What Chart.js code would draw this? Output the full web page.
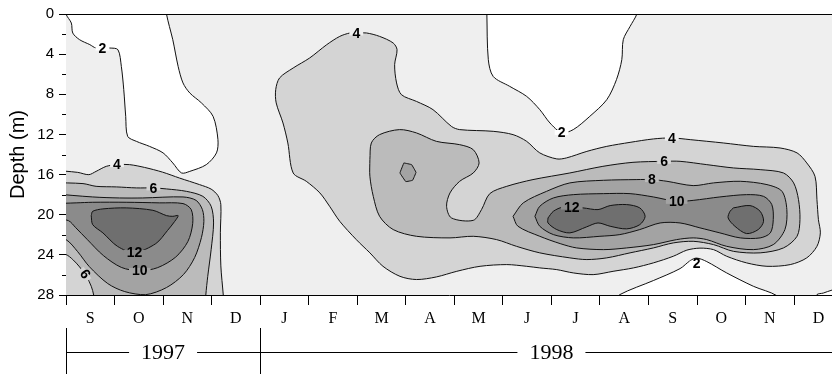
<!DOCTYPE html>
<html>
<head>
<meta charset="utf-8">
<script src="https://cdn.jsdelivr.net/npm/chart.js@4.4.0/dist/chart.umd.min.js"></script>
<style>
  html, body { margin: 0; padding: 0; background: #fff; }
  #wrap { width: 832px; height: 374px; }
</style>
</head>
<body>
<div id="wrap"><canvas id="chartDepth"></canvas></div>
<script>
// x = months since 1 Sep 1997, y = depth (m)
const months = ['S', 'O', 'N', 'D', 'J', 'F', 'M', 'A', 'M', 'J', 'J', 'A', 'S', 'O', 'N', 'D'];
const yearLabels = ['1997', '1998'];
const yearStarts = [0, 4];
const yearEnds = [4, 16];
const depthTicks = [0, 2, 4, 6, 8, 10, 12, 14, 16, 18, 20, 22, 24, 26, 28];
const levels = [2, 4, 6, 8, 10, 12];
const bandColors = ['#ffffff', '#efefef', '#d4d4d4', '#bbbbbb', '#a3a3a3', '#8b8b8b', '#6f6f6f'];

// contour outlines [month, depth]; points past the axes close the shapes off-chart
const lt2_1997 = [[0.00,-0.8],[0.00,0.0],[0.11,0.9],[0.14,1.9],[0.28,2.56],[0.49,3.05],[0.62,3.39],[0.90,3.39],[1.07,3.56],[1.14,5.22],[1.19,7.54],[1.23,10.2],[1.27,12.19],[1.45,12.69],[1.72,13.19],[2.00,13.84],[2.20,14.84],[2.38,15.84],[2.55,15.68],[2.89,15.01],[3.10,13.84],[3.13,12.52],[3.03,10.2],[2.79,8.86],[2.55,7.87],[2.41,6.87],[2.31,5.22],[2.20,2.56],[2.13,1.24],[2.07,0.0],[2.06,-0.8]];
const lt2_1998a = [[8.67,-0.8],[8.67,0.0],[8.70,4.55],[8.80,6.22],[9.14,7.21],[9.49,8.21],[9.76,9.53],[9.97,10.86],[10.21,11.82],[10.45,11.52],[10.79,10.2],[11.14,8.54],[11.34,6.54],[11.45,4.55],[11.48,2.56],[11.62,1.24],[11.76,0.0],[11.77,-0.8]];
const lt2_1998b = [[11.25,28.8],[11.41,27.96],[12.10,26.56],[12.65,25.37],[12.86,24.57],[12.99,24.32],[13.20,24.67],[13.61,25.80],[14.16,27.13],[14.64,28.06],[14.70,28.8]];
const lt2_1998c = [[15.40,28.8],[15.47,27.96],[15.60,27.81],[15.78,27.51],[16.2,27.1],[16.2,28.8]];

const gt4_1997 = [[-0.3,15.55],[0.24,15.78],[0.47,16.01],[0.62,15.68],[0.83,15.18],[1.05,15.01],[1.31,15.01],[1.62,15.29],[1.99,15.76],[2.34,16.35],[2.75,17.0],[2.99,17.45],[3.13,18.1],[3.19,19.0],[3.18,21.8],[3.19,25.1],[3.24,28.0],[3.25,28.8],[-0.3,28.8]];
const gt6_1997 = [[-0.3,16.8],[0.35,16.9],[0.62,17.17],[1.04,17.23],[1.45,17.33],[1.80,17.33],[2.07,17.43],[2.48,17.67],[2.82,18.17],[2.99,19.16],[3.04,20.82],[2.99,23.48],[2.92,26.14],[2.88,28.0],[2.87,28.8],[0.58,28.8],[0.57,28.0],[0.52,27.13],[0.42,26.14],[0.28,25.2],[0.14,24.47],[0.0,23.97],[-0.3,23.7]];
const gt8_1997 = [[-0.3,17.9],[0.55,18.23],[1.10,18.33],[1.58,18.33],[2.41,18.23],[2.68,18.57],[2.81,19.49],[2.84,20.69],[2.79,22.28],[2.65,24.27],[2.42,25.96],[2.07,27.26],[1.64,27.97],[1.21,27.66],[0.86,26.86],[0.48,25.17],[0.24,23.68],[0.0,22.48],[-0.3,22.2]];
const gt10_1997 = [[-0.3,18.9],[0.21,18.82],[0.55,18.76],[1.24,18.76],[1.93,18.82],[2.41,18.89],[2.58,19.49],[2.61,20.89],[2.51,22.68],[2.26,24.22],[1.89,25.27],[1.52,25.59],[1.14,25.25],[0.77,24.07],[0.44,22.48],[0.20,21.29],[0.05,20.59],[-0.3,20.3]];
const gt12_1997 = [[0.52,20.09],[0.55,19.66],[0.76,19.42],[1.24,19.32],[1.79,19.56],[2.07,20.09],[2.20,20.16],[2.31,20.09],[2.24,20.66],[2.09,21.58],[1.85,22.88],[1.41,23.77],[1.06,23.15],[0.76,21.81],[0.55,20.99]];

const gt4_1998 = [[5.98,1.89],[6.19,1.89],[6.46,2.23],[6.74,2.89],[6.82,3.56],[6.77,5.05],[6.81,6.87],[6.91,8.04],[7.22,8.71],[7.56,9.53],[7.94,11.2],[8.11,11.52],[8.80,11.69],[9.21,12.02],[9.49,12.69],[9.76,13.84],[10.11,14.44],[10.31,14.34],[10.73,13.69],[11.14,13.19],[11.62,12.79],[12.10,12.45],[12.48,12.35],[12.86,12.52],[13.54,12.85],[14.16,13.19],[14.71,13.35],[15.06,13.84],[15.26,14.84],[15.43,16.18],[15.47,18.5],[15.50,20.49],[15.54,21.81],[15.47,23.15],[15.26,24.3],[14.92,24.97],[14.44,25.14],[14.02,24.8],[13.61,24.14],[13.34,23.48],[13.06,23.33],[12.79,23.53],[12.51,24.14],[12.10,24.8],[11.69,25.3],[11.27,25.64],[10.86,25.97],[10.45,25.8],[10.11,25.47],[9.76,25.3],[9.49,25.14],[9.08,24.97],[8.53,25.14],[8.05,25.64],[7.63,26.2],[7.22,26.46],[6.88,26.14],[6.53,25.14],[6.26,23.8],[5.98,22.48],[5.64,20.66],[5.43,19.16],[5.23,17.83],[4.95,16.67],[4.68,15.84],[4.57,12.85],[4.47,10.86],[4.33,8.86],[4.32,7.54],[4.40,6.37],[4.68,5.38],[5.02,4.38],[5.37,3.06],[5.64,2.23],[5.85,1.89]];
const gt6_1998 = [[6.26,14.51],[6.29,12.85],[6.46,12.02],[6.87,11.52],[7.22,11.85],[7.63,12.69],[8.11,13.02],[8.39,13.52],[8.51,14.84],[8.39,15.84],[8.11,16.67],[7.91,17.83],[7.84,19.16],[7.94,20.32],[8.39,20.56],[8.56,19.49],[8.73,17.9],[9.08,17.17],[9.62,16.5],[10.38,15.84],[11.06,15.18],[11.68,14.78],[12.32,14.68],[12.65,14.68],[13.20,15.01],[13.75,15.34],[14.30,15.51],[14.78,15.84],[14.99,16.83],[15.09,18.5],[15.12,20.49],[15.06,22.15],[14.78,23.31],[14.30,23.8],[13.75,23.65],[13.34,22.98],[12.92,22.65],[12.51,22.81],[12.10,23.31],[11.62,23.8],[11.14,24.3],[10.73,24.47],[10.38,24.3],[9.76,23.8],[9.28,23.15],[8.87,22.48],[8.39,22.15],[7.91,22.31],[7.22,22.15],[6.74,21.48],[6.46,20.16],[6.33,18.17],[6.26,16.17]];
const gt8_1998a = [[6.96,14.84],[7.12,15.01],[7.21,15.78],[7.14,16.57],[7.00,16.70],[6.88,15.84]];
const gt8_1998b = [[9.21,20.16],[9.42,18.82],[9.90,17.67],[10.38,16.83],[11.07,16.57],[11.76,16.5],[12.07,16.5],[12.38,16.67],[12.92,17.1],[13.34,16.83],[13.89,16.67],[14.44,17.0],[14.75,17.67],[14.85,19.49],[14.81,21.48],[14.57,22.98],[14.16,23.48],[13.61,23.15],[13.20,22.48],[12.92,22.31],[12.58,22.48],[12.10,22.98],[11.55,23.31],[11.07,23.48],[10.52,23.31],[10.18,22.88],[9.76,22.15],[9.31,21.15]];
const gt10_1998 = [[9.66,20.16],[9.76,19.16],[10.04,18.33],[10.45,18.0],[11.07,17.9],[11.62,17.9],[12.10,18.23],[12.58,18.67],[12.92,18.57],[13.47,18.23],[14.02,18.0],[14.37,18.17],[14.54,18.99],[14.57,20.49],[14.51,21.81],[14.30,22.31],[13.89,22.31],[13.47,21.81],[13.06,21.31],[12.65,20.82],[12.24,20.82],[11.82,21.48],[11.41,21.98],[11.00,22.15],[10.45,22.31],[10.04,21.98],[9.76,21.15]];
const gt12_1998a = [[9.93,20.32],[10.04,19.66],[10.24,19.24],[10.65,19.32],[10.96,19.49],[11.21,19.09],[11.55,18.99],[11.82,19.32],[11.93,20.16],[11.82,20.99],[11.55,21.41],[11.21,21.15],[10.96,20.82],[10.72,21.22],[10.38,21.81],[10.11,21.48],[9.93,20.82]];
const gt12_1998b = [[13.75,19.32],[14.09,19.09],[14.30,19.66],[14.37,20.66],[14.26,21.48],[14.02,21.88],[13.78,21.15],[13.64,20.32],[13.68,19.66]];

const contourLabels = [
  { t: '2', x: 0.75, y: 3.39, r: 0 },
  { t: '4', x: 1.05, y: 15.01, r: 0 },
  { t: '6', x: 1.80, y: 17.33, r: 0 },
  { t: '12', x: 1.41, y: 23.75, r: 0 },
  { t: '10', x: 1.52, y: 25.55, r: 0 },
  { t: '6', x: 0.40, y: 25.9, r: 55 },
  { t: '4', x: 5.98, y: 1.89, r: 0 },
  { t: '2', x: 10.21, y: 11.8, r: 0 },
  { t: '4', x: 12.48, y: 12.35, r: 0 },
  { t: '6', x: 12.32, y: 14.68, r: 0 },
  { t: '8', x: 12.07, y: 16.5, r: 0 },
  { t: '10', x: 12.58, y: 18.67, r: 0 },
  { t: '12', x: 10.42, y: 19.24, r: 0 },
  { t: '2', x: 12.99, y: 24.85, r: 0 }
];

// band index: 0 = below 2, 1 = above 2, 2 = above 4 ...
const regions = [
  { band: 0, pts: lt2_1997 }, { band: 0, pts: lt2_1998a }, { band: 0, pts: lt2_1998b }, { band: 0, pts: lt2_1998c },
  { band: 2, pts: gt4_1997 }, { band: 2, pts: gt4_1998 },
  { band: 3, pts: gt6_1997 }, { band: 3, pts: gt6_1998 },
  { band: 4, pts: gt8_1997 }, { band: 4, pts: gt8_1998a, tension: 0.05 }, { band: 4, pts: gt8_1998b },
  { band: 5, pts: gt10_1997 }, { band: 5, pts: gt10_1998 },
  { band: 6, pts: gt12_1997 }, { band: 6, pts: gt12_1998a }, { band: 6, pts: gt12_1998b }
];

const SANS = "'Liberation Sans', Arial, sans-serif";
const SERIF = "'Liberation Serif', 'Times New Roman', serif";

const frame = {
  id: 'frame',
  beforeDatasetsDraw(chart) {
    const { ctx, chartArea: a } = chart;
    ctx.save();
    ctx.fillStyle = bandColors[1];
    ctx.fillRect(a.left, a.top, a.right - a.left, a.bottom - a.top);
    ctx.restore();
  },
  afterDraw(chart) {
    const { ctx, chartArea: a, scales: { x, y } } = chart;
    ctx.save();
    ctx.strokeStyle = '#000';
    ctx.lineWidth = 1;
    ctx.beginPath();
    ctx.moveTo(a.left, Math.round(a.top) + 0.5);
    ctx.lineTo(a.right, Math.round(a.top) + 0.5);
    // minor depth ticks
    depthTicks.filter(v => v % 4 !== 0).forEach(v => {
      const py = Math.round(y.getPixelForValue(v)) + 0.5;
      ctx.moveTo(a.left - 4, py);
      ctx.lineTo(a.left, py);
    });
    ctx.stroke();

    // year row
    const yTop = 328, yLine = 352.5, yBot = 374;
    ctx.beginPath();
    yearStarts.forEach(s => {
      const px = Math.round(x.getPixelForValue(s)) + 0.5;
      ctx.moveTo(px, yTop);
      ctx.lineTo(px, yBot);
    });
    ctx.font = '22px ' + SERIF;
    ctx.textAlign = 'center';
    ctx.textBaseline = 'middle';
    ctx.fillStyle = '#000';
    yearLabels.forEach((t, i) => {
      const p0 = x.getPixelForValue(yearStarts[i]);
      const p1 = x.getPixelForValue(yearEnds[i]);
      const cx = (p0 + p1) / 2;
      const w = ctx.measureText(t).width;
      ctx.moveTo(p0, yLine);
      ctx.lineTo(cx - w / 2 - 12, yLine);
      ctx.moveTo(cx + w / 2 + 12, yLine);
      ctx.lineTo(p1, yLine);
      ctx.fillText(t, cx, yLine + 1);
    });
    ctx.stroke();
    ctx.restore();
  }
};

const labelsPlugin = {
  id: 'contourLabels',
  afterDatasetsDraw(chart) {
    const { ctx, scales: { x, y } } = chart;
    ctx.save();
    ctx.font = 'bold 14px ' + SANS;
    ctx.textAlign = 'center';
    ctx.textBaseline = 'middle';
    contourLabels.forEach(l => {
      ctx.save();
      ctx.translate(x.getPixelForValue(l.x), y.getPixelForValue(l.y));
      ctx.rotate(l.r * Math.PI / 180);
      const w = ctx.measureText(l.t).width;
      ctx.fillStyle = bandColors[levels.indexOf(Number(l.t))];
      ctx.fillRect(-w / 2 - 3, -2.5, w + 6, 5);
      ctx.fillStyle = '#000';
      ctx.fillText(l.t, 0, 1);
      ctx.restore();
    });
    ctx.restore();
  }
};

Chart.defaults.font.family = SANS;
Chart.defaults.color = '#000';

const ctx = document.getElementById('chartDepth').getContext('2d');
const chartDepth = new Chart(ctx, {
  type: 'line',
  data: {
    datasets: regions.map(r => ({
      data: r.pts.concat([r.pts[0]]).map(p => ({ x: p[0], y: p[1] })),
      fill: 'shape',
      backgroundColor: bandColors[r.band],
      borderColor: '#111',
      borderWidth: 1,
      pointRadius: 0,
      tension: r.tension !== undefined ? r.tension : 0.3,
      order: 100 - r.band
    }))
  },
  options: {
    responsive: true,
    maintainAspectRatio: false,
    animation: false,
    events: [],
    layout: { padding: { top: 14, right: 0, left: 0, bottom: 0 } },
    scales: {
      x: {
        type: 'linear',
        min: 0,
        max: 15.78,
        afterBuildTicks: scale => {
          scale.ticks = [];
          for (let i = 0; i < months.length; i++) {
            scale.ticks.push({ value: i }, { value: i + 0.5 });
          }
        },
        afterFit: scale => { scale.height = 79; },
        ticks: {
          autoSkip: false,
          maxRotation: 0,
          padding: 4,
          font: { family: SERIF, size: 16 },
          callback: value => Number.isInteger(value) ? '' : months[Math.floor(value)]
        },
        grid: {
          drawOnChartArea: false,
          tickLength: 10,
          tickColor: c => Number.isInteger(c.tick.value) ? '#000' : 'rgba(0,0,0,0)'
        },
        border: { display: true, color: '#000', width: 1 }
      },
      y: {
        type: 'linear',
        reverse: true,
        min: 0,
        max: 28,
        afterBuildTicks: scale => { scale.ticks = depthTicks.map(v => ({ value: v })); },
        afterFit: scale => { scale.width = 66; },
        ticks: {
          padding: 5,
          font: { size: 15 },
          callback: value => value % 4 === 0 ? value : ''
        },
        grid: {
          drawOnChartArea: false,
          tickLength: 7,
          tickColor: c => c.tick.value % 4 === 0 ? '#000' : 'rgba(0,0,0,0)'
        },
        border: { display: true, color: '#000', width: 1 },
        title: {
          display: true,
          text: 'Depth (m)',
          font: { size: 20 },
          padding: { top: 6, bottom: 0 }
        }
      }
    },
    plugins: {
      legend: { display: false },
      tooltip: { enabled: false }
    }
  },
  plugins: [frame, labelsPlugin]
});
</script>
</body>
</html>
